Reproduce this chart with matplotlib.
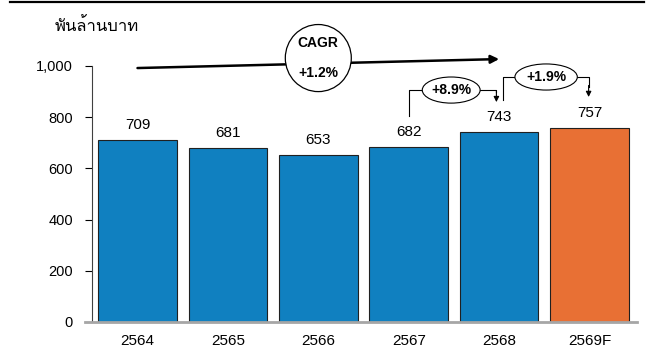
import matplotlib
matplotlib.use('Agg')
import matplotlib.pyplot as plt
import matplotlib as mpl
from matplotlib import font_manager, ft2font
from matplotlib.patches import Ellipse
from matplotlib.lines import Line2D

# 数据
years = ['2564', '2565', '2566', '2567', '2568', '2569F']
values = [709, 681, 653, 682, 743, 757]
cagr_text = 'CAGR\n+1.2%'
growth_labels = ['+8.9%', '+1.9%']
unit_label = 'พันล้านบาท'

bar_colors = ['#1080C0'] * 5 + ['#E87034']

# 找一个有泰文字形的字体, 最好声调符号宽度为0
mark = '\u0e49'
thai_family = None
zero_mark = False
for f in font_manager.fontManager.ttflist:
    try:
        ft = ft2font.FT2Font(f.fname)
        if not ft.get_char_index(ord('พ')) or not ft.get_char_index(ord(mark)):
            continue
        g = ft.load_char(ord(mark), flags=ft2font.LoadFlags.NO_HINTING)
        if g.linearHoriAdvance == 0:
            thai_family, zero_mark = f.name, True
            break
        if thai_family is None:
            thai_family = f.name
    except Exception:
        pass

mpl.rcParams['font.family'] = ['Liberation Sans', 'DejaVu Sans']
mpl.rcParams['font.size'] = 10

fig = plt.figure(figsize=(6.64, 3.49), dpi=100)
ax = fig.add_axes([0.139, 0.0774, 0.8169, 0.7335])
ax.set_xlim(-0.5, 5.5)
ax.set_ylim(0, 1000)

x = list(range(len(years)))
ax.bar(x, values, width=0.87, color=bar_colors, edgecolor='#202020', linewidth=0.8, zorder=2)
for i, v in enumerate(values):
    ax.text(i, v + 43, str(v), ha='center', va='baseline', fontsize=11)

ax.set_xticks(x)
ax.set_xticklabels(years)
ax.set_yticks([0, 200, 400, 600, 800, 1000])
ax.yaxis.set_major_formatter(mpl.ticker.StrMethodFormatter('{x:,.0f}'))
ax.tick_params(axis='x', length=0, pad=9, labelsize=11)
ax.tick_params(axis='y', length=5, width=0.8, pad=9, labelsize=10.5, direction='out')
for s in ['top', 'right']:
    ax.spines[s].set_visible(False)
ax.spines['left'].set_color('#404040')
ax.spines['left'].set_linewidth(0.8)
ax.spines['bottom'].set_visible(False)
ax.add_line(Line2D([-0.013, 1.005], [0, 0], transform=ax.transAxes, color='#A6A6A6',
                   lw=2, clip_on=False, zorder=3))

# CAGR 箭头
ax.annotate('', xy=(4, 1027), xytext=(0, 992),
            arrowprops=dict(arrowstyle='-|>', lw=1.8, color='black', mutation_scale=12,
                            shrinkA=0, shrinkB=0), annotation_clip=False)
ax.add_patch(Ellipse((2, 1031), 0.73, 262, facecolor='white', edgecolor='black',
                     lw=0.9, clip_on=False, zorder=5))
ax.text(2, 1031, cagr_text, ha='center', va='center', fontsize=10, fontweight='bold',
        linespacing=2.4, zorder=6)

# 年增长括号
brackets = [
    # x0, y0, ytop, xc, xr, yend
    (3.0, 805, 906, 3.47, 3.97, 859),
    (4.04, 867, 957, 4.52, 4.99, 879),
]
ell_w = [0.64, 0.69]
for (x0, y0, yt, xc, xr, ye), lab, w in zip(brackets, growth_labels, ell_w):
    ax.plot([x0, x0, xc], [y0, yt, yt], color='black', lw=0.8, clip_on=False, zorder=4)
    ax.plot([xc, xr, xr], [yt, yt, ye + 40], color='black', lw=0.8, clip_on=False, zorder=4)
    ax.annotate('', xy=(xr, ye), xytext=(xr, ye + 45),
                arrowprops=dict(arrowstyle='-|>', lw=0.8, color='black', mutation_scale=8,
                                shrinkA=0, shrinkB=0), annotation_clip=False)
    ax.add_patch(Ellipse((xc, yt), w, 102, facecolor='white', edgecolor='black',
                         lw=0.8, clip_on=False, zorder=5))
    ax.text(xc, yt, lab, ha='center', va='center', fontsize=10, fontweight='bold', zorder=6)

# 单位
fam = [thai_family, 'DejaVu Sans'] if thai_family else ['DejaVu Sans']
ux, uy = 55 / 664, 1 - 31 / 349
if zero_mark:
    fig.text(ux, uy, unit_label, ha='left', va='baseline', fontsize=12, family=fam)
else:
    # 声调符号单独放在 ล 上面
    base = unit_label.replace(mark, '')
    fig.text(ux, uy, base, ha='left', va='baseline', fontsize=12, family=fam)
    renderer = fig.canvas.get_renderer()
    pre = unit_label.split(mark)[0]
    t_pre = fig.text(ux, uy, pre, ha='left', va='baseline', fontsize=12, family=fam, alpha=0)
    t_mk = fig.text(ux, uy, mark, ha='left', va='baseline', fontsize=12, family=fam, alpha=0)
    end_px = t_pre.get_window_extent(renderer).x1
    mk_w = t_mk.get_window_extent(renderer).width
    t_pre.remove()
    t_mk.remove()
    mx = (end_px - mk_w) / fig.bbox.width
    fig.text(mx, uy, mark + ' ', ha='left', va='baseline', fontsize=12, family=fam)

# 顶部黑线
fig.add_artist(Line2D([10 / 664, 644 / 664], [1 - 1.5 / 349, 1 - 1.5 / 349],
                      transform=fig.transFigure, color='black', lw=1.6))

fig.savefig('out.png', dpi=100)
